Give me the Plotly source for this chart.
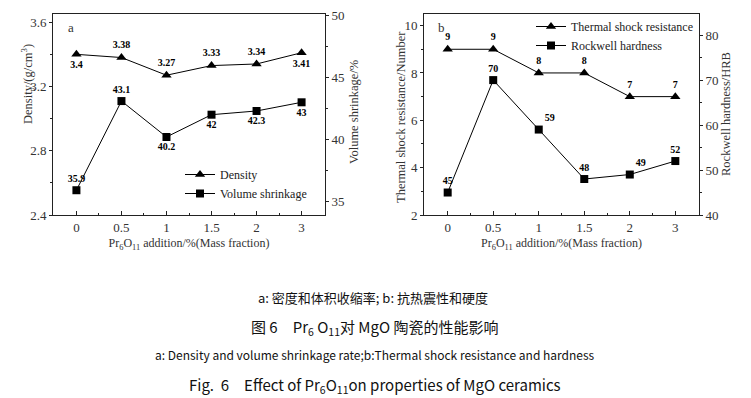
import plotly.graph_objects as go

categories = ["0", "0.5", "1", "1.5", "2", "3"]
density = [3.40, 3.38, 3.27, 3.33, 3.34, 3.41]
volume_shrinkage = [35.9, 43.1, 40.2, 42.0, 42.3, 43.0]
thermal_shock = [9, 9, 8, 8, 7, 7]
rockwell = [45, 70, 59, 48, 49, 52]

density_labels = ["3.4", "3.38", "3.27", "3.33", "3.34", "3.41"]
volume_labels = ["35.9", "43.1", "40.2", "42", "42.3", "43"]
thermal_labels = ["9", "9", "8", "8", "7", "7"]
rockwell_labels = ["45", "70", "59", "48", "49", "52"]

xpos = list(range(len(categories)))

W, H = 751, 398
SERIF = "Liberation Serif"
CJK = "Noto Sans CJK SC"

def px_x(p):
    return p / W

def px_y(p):
    return (H - p) / H

label_font = dict(family=SERIF, size=10, color="black", weight="bold")
line_style = dict(color="black", width=1)

fig = go.Figure()

fig.add_trace(go.Scatter(
    x=xpos, y=density, name="Density", mode="lines+markers+text",
    text=density_labels,
    textposition=["bottom center", "top center", "top center", "top center", "top center", "bottom center"],
    textfont=label_font, line=line_style,
    marker=dict(symbol="triangle-up", size=9, color="black"),
    xaxis="x", yaxis="y", legend="legend"))
fig.add_trace(go.Scatter(
    x=xpos, y=volume_shrinkage, name="Volume shrinkage", mode="lines+markers+text",
    text=volume_labels,
    textposition=["top center", "top center", "bottom center", "bottom center", "bottom center", "bottom center"],
    textfont=label_font, line=line_style,
    marker=dict(symbol="square", size=8, color="black"),
    xaxis="x", yaxis="y2", legend="legend"))

fig.add_trace(go.Scatter(
    x=xpos, y=thermal_shock, name="Thermal shock resistance", mode="lines+markers+text",
    text=thermal_labels, textposition="top center",
    textfont=label_font, line=line_style,
    marker=dict(symbol="triangle-up", size=9, color="black"),
    xaxis="x2", yaxis="y3", legend="legend2"))
fig.add_trace(go.Scatter(
    x=xpos, y=rockwell, name="Rockwell hardness", mode="lines+markers+text",
    text=rockwell_labels,
    textposition=["top center", "top center", "top right", "top center", "top right", "top center"],
    textfont=label_font, line=line_style,
    marker=dict(symbol="square", size=8, color="black"),
    xaxis="x2", yaxis="y4", legend="legend2"))

tick_font = dict(family=SERIF, size=13, color="#333")
title_font = dict(family=SERIF, size=12, color="#333")

xtitle = "Pr<sub>6</sub>O<sub>11</sub> addition/%(Mass fraction)"

def xaxis_cfg(domain):
    return dict(
        domain=domain, range=[-0.52, 5.52], tickvals=xpos, ticktext=categories,
        ticks="inside", ticklen=4, tickcolor="#222", showgrid=False, zeroline=False,
        showline=True, linecolor="#222", linewidth=1, mirror=True, automargin=False,
        tickfont=tick_font, title=dict(text=xtitle, font=title_font, standoff=5),
        minor=dict(tickvals=[0.5, 1.5, 2.5, 3.5, 4.5], ticks="inside", ticklen=2, tickcolor="#222"),
    )

def yaxis_cfg(rng, dtick, minor_dtick, side, anchor, overlay=None):
    d = dict(
        range=rng, dtick=dtick, tick0=0, ticks="outside", ticklen=3, tickcolor="#222",
        showgrid=False, zeroline=False, showline=True, linecolor="#222", linewidth=1,
        tickfont=tick_font, side=side, anchor=anchor, automargin=False,
        minor=dict(dtick=minor_dtick, ticks="outside", ticklen=2, tickcolor="#222"),
    )
    if overlay:
        d["overlaying"] = overlay
    else:
        d["domain"] = [px_y(215), px_y(14)]
    return d

fig.update_layout(
    width=W, height=H, autosize=False,
    margin=dict(l=0, r=0, t=0, b=0, pad=0),
    font=dict(family=SERIF, size=13, color="#333"),
    paper_bgcolor="white", plot_bgcolor="white",
    xaxis=xaxis_cfg([px_x(53), px_x(325)]),
    xaxis2=xaxis_cfg([px_x(424), px_x(699)]),
    yaxis=yaxis_cfg([2.4, 3.651], 0.4, 0.2, "left", "x"),
    yaxis2=yaxis_cfg([33.9, 50.13], 5, 2.5, "right", "x", overlay="y"),
    yaxis3=yaxis_cfg([2, 10.49], 2, 1, "left", "x2"),
    yaxis4=yaxis_cfg([40, 84.7], 10, 5, "right", "x2", overlay="y3"),
    legend=dict(x=px_x(180), y=px_y(160), xanchor="left", yanchor="top",
                font=dict(family=SERIF, size=12, color="#222"), bgcolor="rgba(0,0,0,0)",
                tracegroupgap=0),
    legend2=dict(x=px_x(531), y=px_y(12), xanchor="left", yanchor="top",
                 font=dict(family=SERIF, size=12, color="#222"), bgcolor="rgba(0,0,0,0)",
                 tracegroupgap=0),
    showlegend=True,
)

# y-axis titles placed where the reference shows them
ytitles = [
    ("Density/(g/cm<sup>3</sup>)", 27, 84),
    ("Volume shrinkage/%", 354, 112),
    ("Thermal shock resistance/Number", 401, 117),
    ("Rockwell hardness/HRB", 726, 114),
]
for text, xp, yp in ytitles:
    fig.add_annotation(text=text, x=px_x(xp), y=px_y(yp), xref="paper", yref="paper",
                       showarrow=False, textangle=-90, xanchor="center", yanchor="middle",
                       font=dict(family=SERIF, size=12.5, color="#333"))

fig.add_annotation(text="a", x=px_x(71), y=px_y(28), xref="paper", yref="paper",
                   xanchor="center", yanchor="middle",
                   showarrow=False, font=dict(family=SERIF, size=13, color="#333"))
fig.add_annotation(text="b", x=px_x(441), y=px_y(27), xref="paper", yref="paper",
                   xanchor="center", yanchor="middle",
                   showarrow=False, font=dict(family=SERIF, size=13, color="#333"))

captions = [
    ("a: 密度和体积收缩率; b: 抗热震性和硬度", 297, 13, 373),
    ("图 6　Pr<sub>6</sub> O<sub>11</sub>对 MgO 陶瓷的性能影响", 327, 15, 375),
    ("a: Density and volume shrinkage rate;b:Thermal shock resistance and hardness", 354, 12, 375),
    ("Fig.  6　Effect of Pr<sub>6</sub>O<sub>11</sub>on properties of MgO ceramics", 385, 15, 375),
]
for text, yp, size, xp in captions:
    fig.add_annotation(text=text, x=px_x(xp), y=px_y(yp), xref="paper", yref="paper",
                       showarrow=False, xanchor="center", yanchor="middle",
                       font=dict(family=CJK, size=size, color="#111"))

# remove the browser's default 8px body margin so the figure fills the window
fig.write_html("out.html", config={"displayModeBar": False},
               post_script="document.body.style.margin='0';")
